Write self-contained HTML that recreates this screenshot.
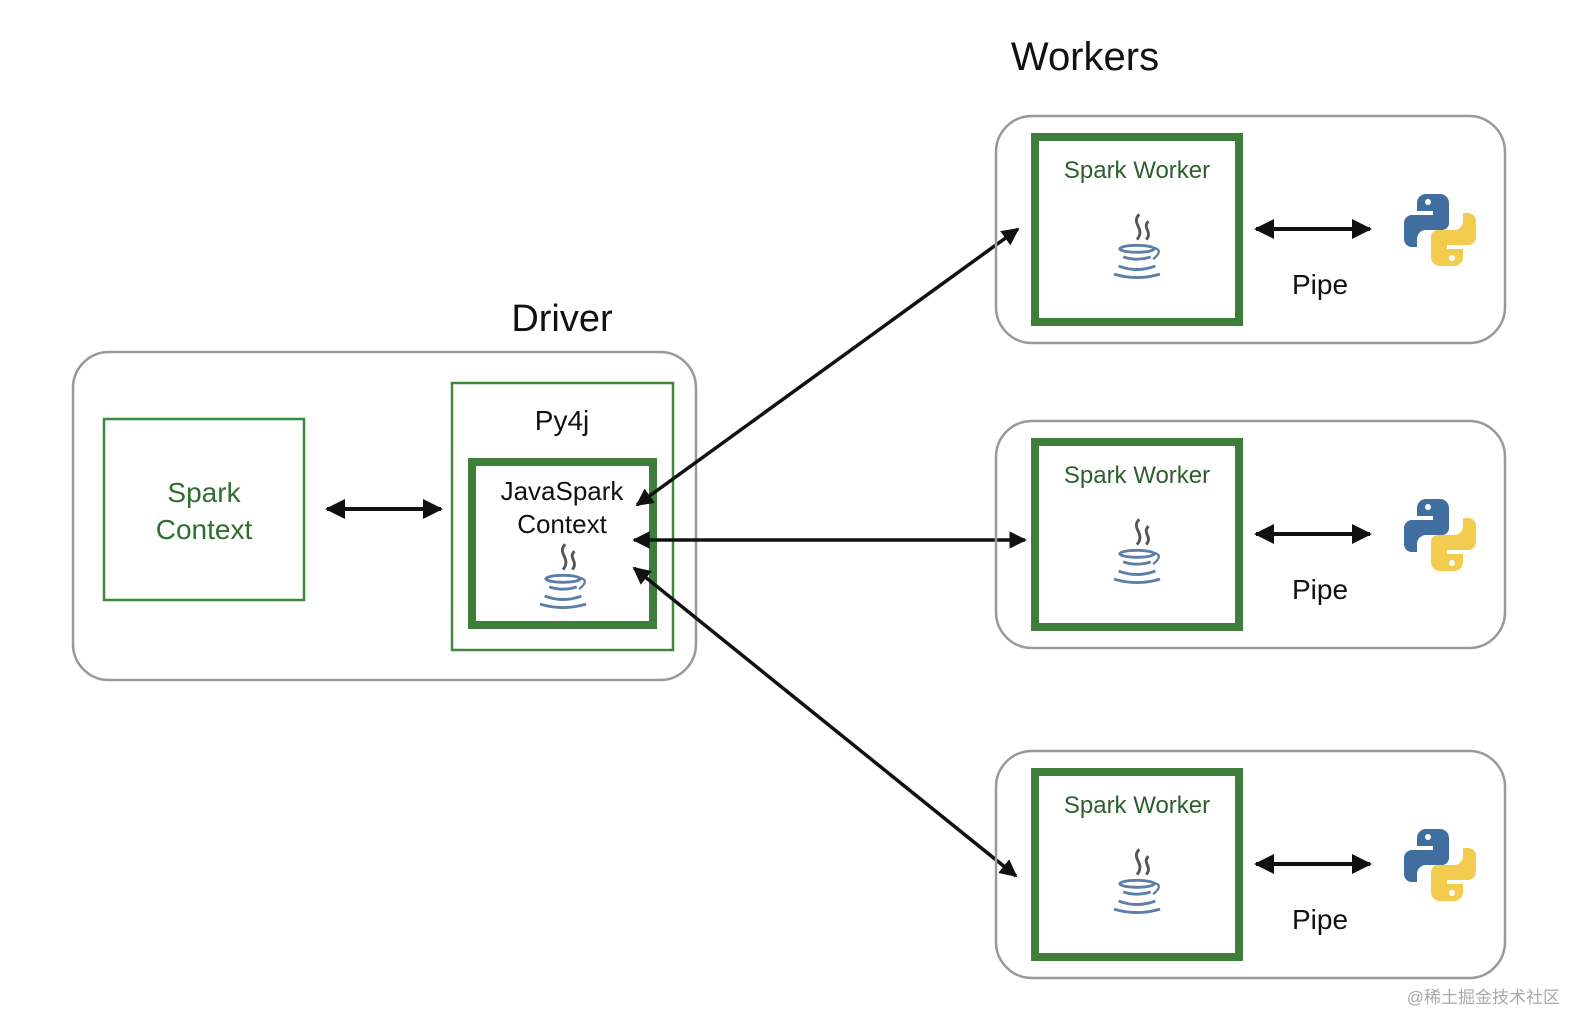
<!DOCTYPE html>
<html><head><meta charset="utf-8"><style>
html,body{margin:0;padding:0;background:#fff}
svg{display:block}
text{font-family:"Liberation Sans",Arial,sans-serif}
</style></head><body>
<svg width="1586" height="1026" viewBox="0 0 1586 1026" xmlns="http://www.w3.org/2000/svg">
<defs>
<marker id="ah" viewBox="0 0 10 10" refX="9" refY="5" markerWidth="5" markerHeight="5" orient="auto-start-reverse" markerUnits="strokeWidth">
<path d="M0,0 L10,5 L0,10 z" fill="#111"/></marker>
<g id="java">
<g transform="scale(1.15)">
<path d="M2,-38 c-8,8 6,12 -2,22 M10,-32 c-6,6 4,9 -2,16" fill="none" stroke="#555" stroke-width="2.5"/>
<ellipse cx="0" cy="-8" rx="15" ry="3" fill="none" stroke="#5b7fa6" stroke-width="2.5"/>
<path d="M-12,-1 q12,4 24,0 M-16,7 q16,6 32,0 M-20,14 q20,6 40,0" fill="none" stroke="#5b7fa6" stroke-width="2.5"/>
<path d="M14,-9 q10,2 0,10" fill="none" stroke="#5b7fa6" stroke-width="2"/>
</g>
</g>
<g id="py">
<path d="M22,0 h14 a9,9 0 0 1 9,9 v20 a7,7 0 0 1 -7,7 h-16 a9,9 0 0 0 -9,9 v8 h-6 a8,8 0 0 1 -7,-8 v-16 a8,8 0 0 1 8,-8 h21 v-4 h-16 v-8 a9,9 0 0 1 9,-9 z" fill="#3f6e9f"/>
<circle cx="24" cy="8" r="3" fill="#fff"/>
<g transform="rotate(180 36 36)">
<path d="M22,0 h14 a9,9 0 0 1 9,9 v20 a7,7 0 0 1 -7,7 h-16 a9,9 0 0 0 -9,9 v8 h-6 a8,8 0 0 1 -7,-8 v-16 a8,8 0 0 1 8,-8 h21 v-4 h-16 v-8 a9,9 0 0 1 9,-9 z" fill="#f2cc4f"/>
<circle cx="24" cy="8" r="3" fill="#fff"/></g>
</g>
</defs>

<text x="1085" y="70" font-size="40" text-anchor="middle" fill="#111">Workers</text>
<text x="562" y="331" font-size="38" text-anchor="middle" fill="#111">Driver</text>

<rect x="73" y="352" width="623" height="328" rx="36" fill="none" stroke="#999" stroke-width="2.5"/>
<rect x="104" y="419" width="200" height="181" fill="none" stroke="#3d8a3d" stroke-width="2.5"/>
<text x="204" y="502" font-size="28" text-anchor="middle" fill="#2e6e2e">Spark</text>
<text x="204" y="539" font-size="28" text-anchor="middle" fill="#2e6e2e">Context</text>
<rect x="452" y="383" width="221" height="267" fill="none" stroke="#3d8a3d" stroke-width="2.5"/>
<text x="562" y="430" font-size="28" text-anchor="middle" fill="#111">Py4j</text>
<rect x="472" y="462" width="181" height="163" fill="none" stroke="#3f7e3a" stroke-width="8"/>
<text x="562" y="500" font-size="26" text-anchor="middle" fill="#111">JavaSpark</text>
<text x="562" y="533" font-size="26" text-anchor="middle" fill="#111">Context</text>
<use href="#java" x="563" y="588"/>

<line x1="327" y1="509" x2="441" y2="509" stroke="#111" stroke-width="4" marker-start="url(#ah)" marker-end="url(#ah)"/>
<line x1="637" y1="505" x2="1018" y2="229" stroke="#111" stroke-width="3.5" marker-start="url(#ah)" marker-end="url(#ah)"/>
<line x1="634" y1="540" x2="1025" y2="540" stroke="#111" stroke-width="3.5" marker-start="url(#ah)" marker-end="url(#ah)"/>
<line x1="634" y1="568" x2="1016" y2="876" stroke="#111" stroke-width="3.5" marker-start="url(#ah)" marker-end="url(#ah)"/>

<g>
<rect x="996" y="116" width="509" height="227" rx="36" fill="none" stroke="#999" stroke-width="2.5"/>
<rect x="1035" y="137" width="204" height="185" fill="none" stroke="#3f7e3a" stroke-width="8"/>
<text x="1137" y="178" font-size="24" text-anchor="middle" fill="#2e5e2e">Spark Worker</text>
<use href="#java" x="1137" y="258"/>
<line x1="1256" y1="229" x2="1370" y2="229" stroke="#111" stroke-width="4" marker-start="url(#ah)" marker-end="url(#ah)"/>
<text x="1320" y="294" font-size="28" text-anchor="middle" fill="#111">Pipe</text>
<use href="#py" x="1404" y="194"/>
</g>
<g transform="translate(0,305)">
<rect x="996" y="116" width="509" height="227" rx="36" fill="none" stroke="#999" stroke-width="2.5"/>
<rect x="1035" y="137" width="204" height="185" fill="none" stroke="#3f7e3a" stroke-width="8"/>
<text x="1137" y="178" font-size="24" text-anchor="middle" fill="#2e5e2e">Spark Worker</text>
<use href="#java" x="1137" y="258"/>
<line x1="1256" y1="229" x2="1370" y2="229" stroke="#111" stroke-width="4" marker-start="url(#ah)" marker-end="url(#ah)"/>
<text x="1320" y="294" font-size="28" text-anchor="middle" fill="#111">Pipe</text>
<use href="#py" x="1404" y="194"/>
</g>
<g transform="translate(0,635)">
<rect x="996" y="116" width="509" height="227" rx="36" fill="none" stroke="#999" stroke-width="2.5"/>
<rect x="1035" y="137" width="204" height="185" fill="none" stroke="#3f7e3a" stroke-width="8"/>
<text x="1137" y="178" font-size="24" text-anchor="middle" fill="#2e5e2e">Spark Worker</text>
<use href="#java" x="1137" y="258"/>
<line x1="1256" y1="229" x2="1370" y2="229" stroke="#111" stroke-width="4" marker-start="url(#ah)" marker-end="url(#ah)"/>
<text x="1320" y="294" font-size="28" text-anchor="middle" fill="#111">Pipe</text>
<use href="#py" x="1404" y="194"/>
</g>

<text x="1560" y="1003" font-size="17" text-anchor="end" fill="#aaa" style='font-family:"Liberation Sans","Noto Sans CJK SC",sans-serif'>@稀土掘金技术社区</text>
</svg>
</body></html>
